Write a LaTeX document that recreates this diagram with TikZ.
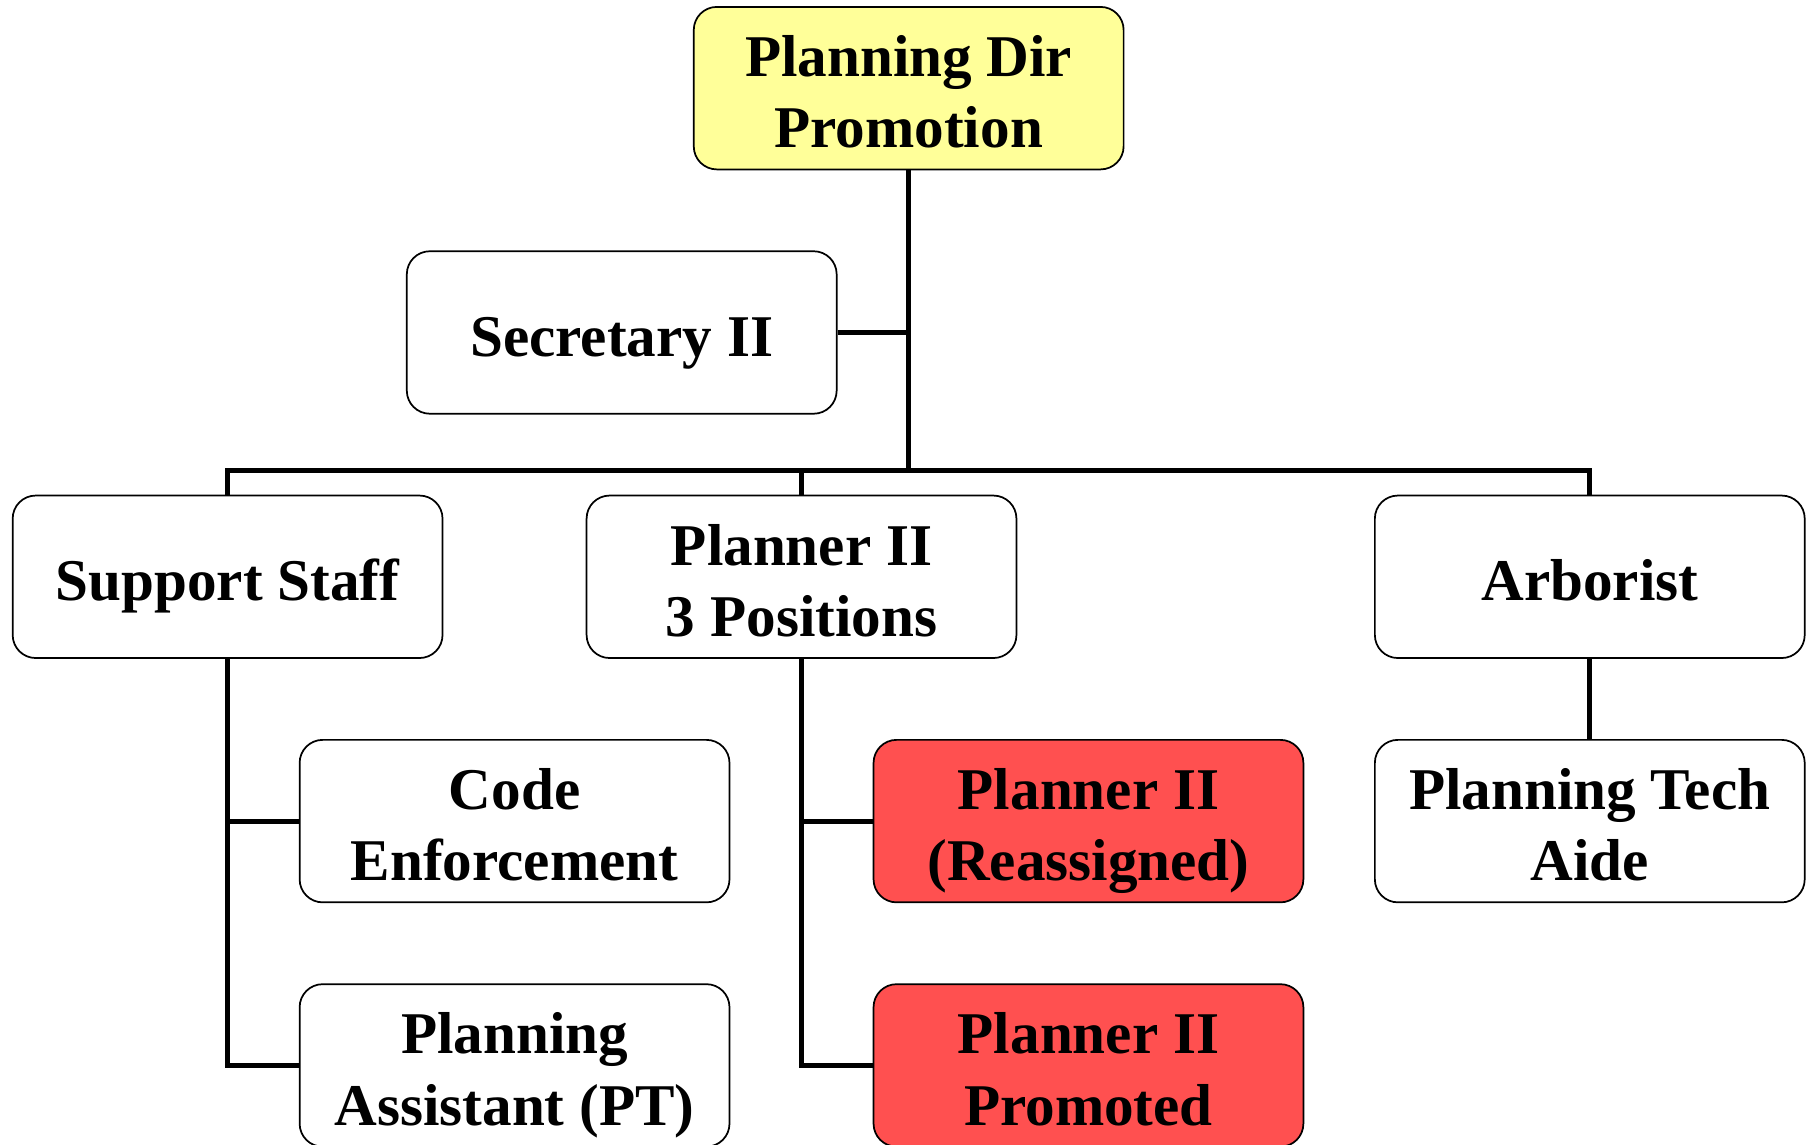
\documentclass[tikz,border=0pt]{standalone}
\usepackage{fontspec}
\setmainfont{Liberation Serif}
\definecolor{diryellow}{HTML}{FFFF99}
\definecolor{posred}{HTML}{FF5050}
\newcommand{\postlbl}[1]{\raisebox{-11.3pt}[0pt][0pt]{\begin{tabular}{@{}c@{}}#1\end{tabular}}}
\begin{document}
\begin{tikzpicture}[x=0.6pt,y=-0.6pt,
  post/.style={draw=black, line width=0.9pt, rounded corners=12pt, fill=white,
    minimum width=223.8pt, minimum height=84.6pt, inner sep=0pt, align=center,
    font=\fontsize{30.8}{37.2}\selectfont\bfseries},
  link/.style={draw=black, line width=2.6pt}]
\useasboundingbox (0,0) rectangle (1568,992.7);
\node[post, fill=diryellow] (dir) at (788.5,76.5) {\postlbl{Planning Dir\\Promotion}};
\node[post] (sec) at (539.5,288.5) {\postlbl{Secretary II}};
\node[post] (sup) at (197.5,500.5) {\postlbl{Support Staff}};
\node[post] (pl) at (695.5,500.5) {\postlbl{Planner II\\3 Positions}};
\node[post] (arb) at (1379.5,500.5) {\postlbl{Arborist}};
\node[post] (code) at (446.5,712.5) {\postlbl{Code\\Enforcement}};
\node[post] (asst) at (446.5,924.5) {\postlbl{Planning\\Assistant (PT)}};
\node[post, fill=posred] (reas) at (944.5,712.5) {\postlbl{Planner II\\(Reassigned)}};
\node[post, fill=posred] (prom) at (944.5,924.5) {\postlbl{Planner II\\Promoted}};
\node[post] (tech) at (1379.5,712.5) {\postlbl{Planning Tech\\Aide}};
\coordinate (bus) at (788.5,408);
\draw[link] (dir.south) -- (bus);
\draw[link] (sec.east) -- (sec.east -| bus);
\draw[link] (sup.north) |- (bus) -| (arb.north);
\draw[link] (pl.north) -- (pl.north |- bus);
\draw[link] (sup.south) |- (asst.west);
\draw[link] (sup.south |- code.west) -- (code.west);
\draw[link] (pl.south) |- (prom.west);
\draw[link] (pl.south |- reas.west) -- (reas.west);
\draw[link] (arb.south) -- (tech.north);
\end{tikzpicture}
\end{document}
